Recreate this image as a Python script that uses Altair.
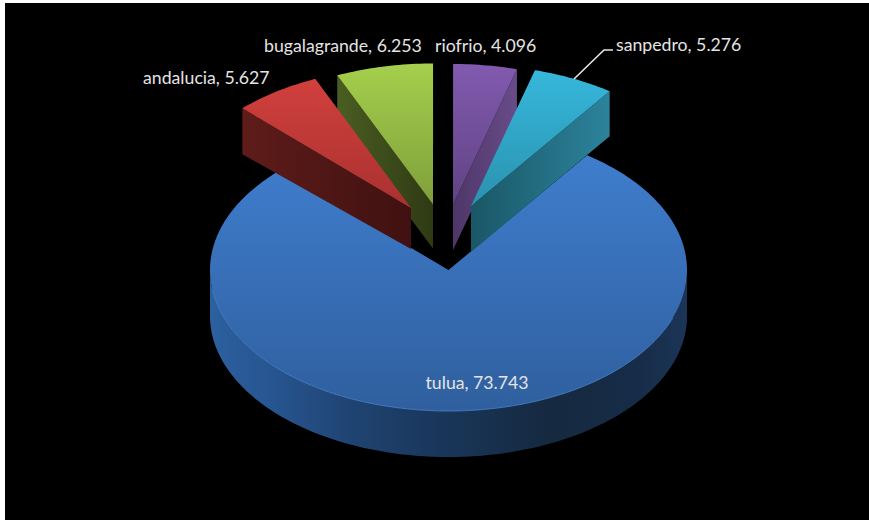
import math
import altair as alt
import pandas as pd

W, H = 869, 520

# Chart values
names = ["andalucia", "bugalagrande", "riofrio", "sanpedro", "tulua"]
values = [5.627, 6.253, 4.096, 5.276, 73.743]

# Pie geometry
FIRST_ANGLE = -45.0
RX, RY = 238.5, 141.0
hubs = {
    "andalucia": (411, 208),
    "bugalagrande": (433, 204.5),
    "riofrio": (453, 205),
    "sanpedro": (471, 206),
    "tulua": (448.5, 270),
}
# Wall height at the hub and at the rim of each exploded slice
depths = {
    "andalucia": (41, 46),
    "bugalagrande": (44, 45),
    "riofrio": (45, 45),
    "sanpedro": (46, 45),
}
BODY_DEPTH = 46

total = sum(values)
spans = {}
cursor = FIRST_ANGLE
for n, v in zip(names, values):
    spans[n] = (cursor, cursor + v / total * 360.0)
    cursor = spans[n][1]

x_scale = alt.Scale(domain=[0, W], range=[0, W], nice=False, zero=False)
y_scale = alt.Scale(domain=[0, H], range=[0, H], nice=False, zero=False)
X = alt.X("x:Q", scale=x_scale, axis=None)
Y = alt.Y("y:Q", scale=y_scale, axis=None)


def rim(hub, a0, a1, dy=0.0, step=1.0):
    n = max(2, int(abs(a1 - a0) / step) + 1)
    pts = []
    for i in range(n):
        a = math.radians(a0 + (a1 - a0) * i / (n - 1))
        pts.append((hub[0] + RX * math.sin(a), hub[1] - RY * math.cos(a) + dy))
    return pts


def grad(stops, vertical=True):
    return alt.Gradient(
        gradient="linear",
        stops=[alt.GradientStop(offset=o, color=c) for o, c in stops],
        x1=0, y1=0,
        x2=0 if vertical else 1,
        y2=1 if vertical else 0,
    )


def polygon(pts, fill):
    pts = list(pts) + [pts[0]]
    df = pd.DataFrame({"x": [p[0] for p in pts], "y": [p[1] for p in pts], "i": range(len(pts))})
    return alt.Chart(df).mark_line(fill=fill, strokeWidth=0, interpolate="linear", clip=False).encode(
        x=X, y=Y, order="i:Q"
    )


def polyline(pts, color, width, opacity=1.0):
    df = pd.DataFrame({"x": [p[0] for p in pts], "y": [p[1] for p in pts], "i": range(len(pts))})
    return alt.Chart(df).mark_line(color=color, strokeWidth=width, opacity=opacity, interpolate="linear").encode(
        x=X, y=Y, order="i:Q"
    )


def top_face(name, fill):
    hub = hubs[name]
    a0, a1 = spans[name]
    return polygon([hub] + rim(hub, a0, a1), fill)


def cut_wall(name, angle, fill):
    hub = hubs[name]
    d_hub, d_rim = depths[name]
    outer = rim(hub, angle, angle, step=1)[0]
    return polygon(
        [hub, outer, (outer[0], outer[1] + d_rim), (hub[0], hub[1] + d_hub)],
        fill,
    )


layers = []

# Backdrop
layers.append(
    alt.Chart(pd.DataFrame({"x": [5], "x2": [W], "y": [3], "y2": [H]}))
    .mark_rect(color="#000000")
    .encode(x=X, x2="x2:Q", y=Y, y2="y2:Q")
)

# Large slice: outer wall, then top face and its lit rim
hub_t = hubs["tulua"]
front = rim(hub_t, 90, 270)
layers.append(
    polygon(
        front + [(p[0], p[1] + BODY_DEPTH) for p in reversed(front)],
        grad(
            [
                (0.0, "#2C609F"),
                (0.13, "#275590"),
                (0.3, "#1F4371"),
                (0.5, "#193558"),
                (0.72, "#15293F"),
                (0.9, "#172C48"),
                (1.0, "#1B3558"),
            ],
            vertical=False,
        ),
    )
)
layers.append(top_face("tulua", grad([(0.0, "#3F7DCD"), (1.0, "#2F5F9E")])))
layers.append(polyline(rim(hub_t, 110, 262), "#4A86CF", 1, 0.8))

# Exploded slices, back to front
a_g = spans["bugalagrande"]
layers.append(cut_wall("bugalagrande", a_g[0], grad([(0.0, "#4A5E22"), (1.0, "#2F3A14")], vertical=False)))
layers.append(top_face("bugalagrande", grad([(0.0, "#A5CF4D"), (1.0, "#7F9F3A")])))

a_r = spans["andalucia"]
layers.append(cut_wall("andalucia", a_r[0], grad([(0.0, "#5E1C1A"), (1.0, "#3F1110")], vertical=False)))
layers.append(top_face("andalucia", grad([(0.0, "#D1403D"), (1.0, "#A93130")])))

a_p = spans["riofrio"]
layers.append(cut_wall("riofrio", a_p[1], grad([(0.0, "#4E3668"), (1.0, "#684C88")], vertical=False)))
layers.append(top_face("riofrio", grad([(0.0, "#825AB0"), (1.0, "#5F4382")])))

a_s = spans["sanpedro"]
layers.append(cut_wall("sanpedro", a_s[1], grad([(0.0, "#1A5767"), (1.0, "#2C839C")], vertical=False)))
layers.append(top_face("sanpedro", grad([(0.0, "#36B7DB"), (1.0, "#2A92AE")])))

# Leader line for the sanpedro label
layers.append(polyline([(574, 79), (604, 50), (613, 50)], "#E6E6E6", 1.6))

# Data labels
label_anchor = {
    "andalucia": (143, 79),
    "bugalagrande": (264, 46.5),
    "riofrio": (435, 46.5),
    "sanpedro": (616, 45.5),
    "tulua": (425.5, 384),
}
labels = pd.DataFrame(
    {
        "x": [label_anchor[n][0] for n in names],
        "y": [label_anchor[n][1] for n in names],
        "t": [f"{n}, {v:.3f}" for n, v in zip(names, values)],
    }
)
layers.append(
    alt.Chart(labels)
    .mark_text(align="left", baseline="middle", font="Lato", fontSize=17.7, color="#E4E4E4")
    .encode(x=X, y=Y, text="t:N")
)

chart = (
    alt.layer(*layers)
    .properties(width=W, height=H, background="white", padding=0, autosize=alt.AutoSizeParams(type="none"))
    .configure_view(stroke=None)
)

chart.save("out.html", embed_options={"renderer": "svg", "actions": False})
